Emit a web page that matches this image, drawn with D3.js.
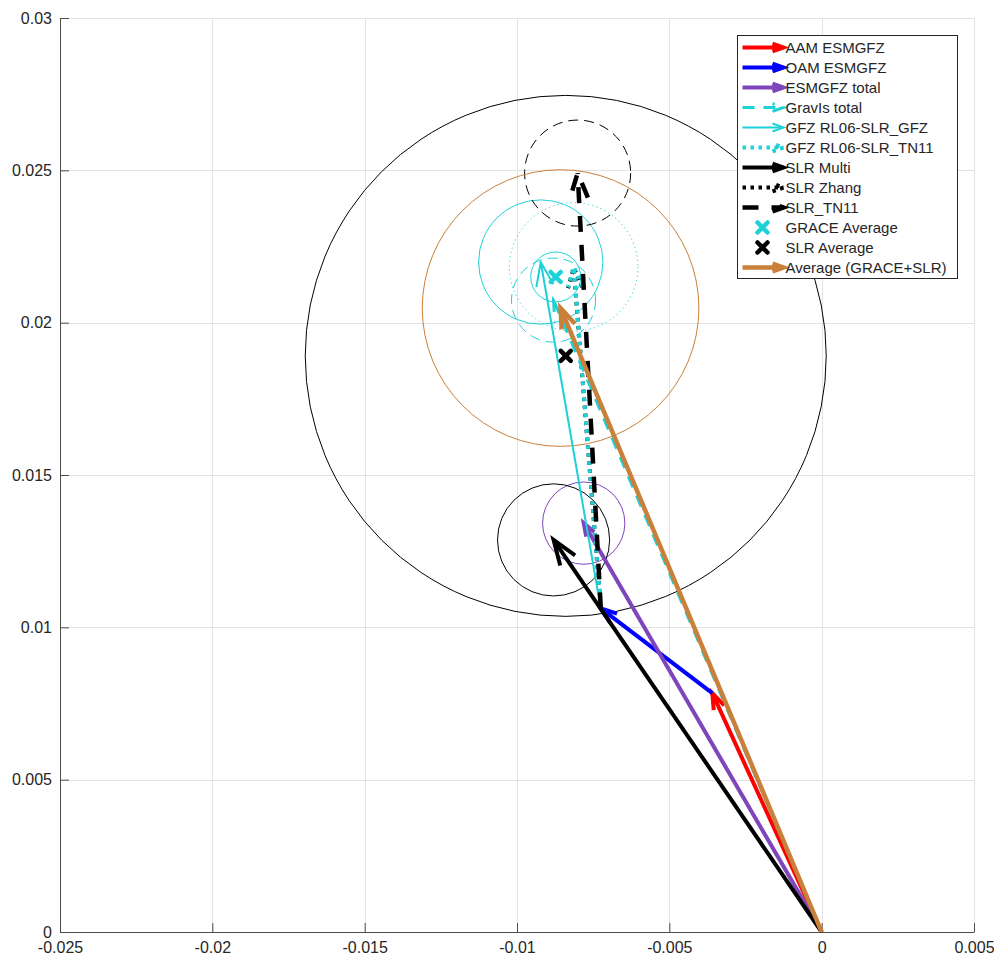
<!DOCTYPE html>
<html>
<head>
<meta charset="utf-8">
<script src="https://cdn.jsdelivr.net/npm/d3@7"></script>
<style>
  html, body { margin: 0; padding: 0; background: #fff; }
  svg text { font-family: "Liberation Sans", Arial, Helvetica, sans-serif; fill: #262626; }
</style>
</head>
<body>
<svg id="chart" width="994" height="957"></svg>
<script>
// Polar-motion excitation vectors (x, y components) and their uncertainty circles.
const vecNames = ["AAM ESMGFZ", "OAM ESMGFZ", "ESMGFZ total", "GravIs total",
  "GFZ RL06-SLR_GFZ", "GFZ RL06-SLR_TN11", "SLR Multi", "SLR Zhang", "SLR_TN11",
  "Average (GRACE+SLR)"];
const baseX = [0, -0.00359, 0, 0, -0.00725, -0.00725, 0, -0.00725, -0.00725, 0];
const baseY = [0, 0.00784, 0, 0, 0.01062, 0.01062, 0, 0.01062, 0.01062, 0];
const tipX  = [-0.00359, -0.00725, -0.00781, -0.00880, -0.00922, -0.00814, -0.00880, -0.00814, -0.00801, -0.00857];
const tipY  = [0.00784, 0.01062, 0.01342, 0.02074, 0.02199, 0.02183, 0.01287, 0.02180, 0.02491, 0.02048];
const sigma = [null, null, 0.00135, 0.00138, 0.00204, 0.00211, 0.00184, null, 0.00174, 0.00454];

// Group means
const avgNames = ["GRACE Average", "SLR Average"];
const avgX = [-0.00873, -0.00840];
const avgY = [0.02150, 0.01891];
const avgSigma = [0.00082, 0.00855];

// Axis ticks
const xTicks = [-0.025, -0.02, -0.015, -0.01, -0.005, 0, 0.005];
const xTickLabels = ["-0.025", "-0.02", "-0.015", "-0.01", "-0.005", "0", "0.005"];
const yTicks = [0, 0.005, 0.01, 0.015, 0.02, 0.025, 0.03];
const yTickLabels = ["0", "0.005", "0.01", "0.015", "0.02", "0.025", "0.03"];

// Legend order
const legendOrder = ["AAM ESMGFZ", "OAM ESMGFZ", "ESMGFZ total", "GravIs total",
  "GFZ RL06-SLR_GFZ", "GFZ RL06-SLR_TN11", "SLR Multi", "SLR Zhang", "SLR_TN11",
  "GRACE Average", "SLR Average", "Average (GRACE+SLR)"];

// Line styles
const CYAN = "#1dd1d8", PURPLE = "#7f45bd", ORANGE = "#c9803a";
const style = {
  "AAM ESMGFZ":          { color: "#ff0000", width: 4,   dash: null,   head: 16, circleDash: null },
  "OAM ESMGFZ":          { color: "#0000ff", width: 4,   dash: null,   head: 16, circleDash: null },
  "ESMGFZ total":        { color: PURPLE,    width: 4,   dash: null,   head: 13, circleDash: null },
  "GravIs total":        { color: CYAN,      width: 3,   dash: "12 9", head: 20, circleDash: "10 6" },
  "GFZ RL06-SLR_GFZ":    { color: CYAN,      width: 2,   dash: null,   head: 24, circleDash: null },
  "GFZ RL06-SLR_TN11":   { color: CYAN,      width: 4,   dash: "3.5 4.5", head: 20, circleDash: "1.2 3.2" },
  "SLR Multi":           { color: "#000000", width: 4,   dash: null,   head: 25, circleDash: null },
  "SLR Zhang":           { color: "#000000", width: 4,   dash: "3.5 4.5", head: 20, circleDash: null },
  "SLR_TN11":            { color: "#000000", width: 4.5, dash: "16 13", head: 25, circleDash: "10 6" },
  "Average (GRACE+SLR)": { color: ORANGE,    width: 4.5, dash: null,   head: 20, circleDash: null },
  "GRACE Average":       { color: CYAN,      width: 1,   dash: null,   circleDash: null },
  "SLR Average":         { color: "#000000", width: 1,   dash: null,   circleDash: null }
};

const svg = d3.select("#chart");
const margin = { left: 60, top: 18, right: 20, bottom: 25 };
const W = 994, H = 957;
const x = d3.scaleLinear().domain([-0.025, 0.005]).range([margin.left, W - margin.right]);
const y = d3.scaleLinear().domain([0, 0.03]).range([H - margin.bottom, margin.top]);
const pxPerUnit = x(1) - x(0);

// Grid
const grid = svg.append("g").attr("stroke", "#e3e3e3").attr("stroke-width", 1);
grid.selectAll("line.gx").data(xTicks).join("line")
  .attr("x1", d => Math.round(x(d)) + 0.5).attr("x2", d => Math.round(x(d)) + 0.5)
  .attr("y1", y(0)).attr("y2", y(0.03));
grid.selectAll("line.gy").data(yTicks).join("line")
  .attr("y1", d => Math.round(y(d)) + 0.5).attr("y2", d => Math.round(y(d)) + 0.5)
  .attr("x1", x(-0.025)).attr("x2", x(0.005));

// Axes
const xAxis = d3.axisBottom(x).tickValues(xTicks).tickFormat((d, i) => xTickLabels[i])
  .tickSizeInner(-9).tickSizeOuter(0).tickPadding(8);
const yAxis = d3.axisLeft(y).tickValues(yTicks).tickFormat((d, i) => yTickLabels[i])
  .tickSizeInner(-9).tickSizeOuter(0).tickPadding(8);
const gx = svg.append("g").attr("transform", `translate(0,${y(0)})`).call(xAxis);
const gy = svg.append("g").attr("transform", `translate(${x(-0.025)},0)`).call(yAxis);
[gx, gy].forEach(g => {
  g.select(".domain").attr("stroke", "#4d4d4d");
  g.selectAll(".tick line").attr("stroke", "#4d4d4d");
  g.selectAll(".tick text").attr("font-size", 16).attr("fill", "#262626")
    .style("font-family", "'Liberation Sans', Arial, Helvetica, sans-serif");
});
gx.selectAll(".tick text").attr("dy", "0.82em");

const plot = svg.append("g");

// Arrow head: open V drawn with the shaft's style
function headPath(x0, y0, x1, y1, len) {
  const dx = x1 - x0, dy = y1 - y0, L = Math.hypot(dx, dy);
  const ux = dx / L, uy = dy / L, px = -uy, py = ux, hw = 0.36 * len;
  const bx = x1 - ux * len, by = y1 - uy * len;
  return `M${bx + px * hw},${by + py * hw}L${x1},${y1}L${bx - px * hw},${by - py * hw}`;
}

const vectors = vecNames.map((n, i) => ({
  name: n, x0: baseX[i], y0: baseY[i], x1: tipX[i], y1: tipY[i], r: sigma[i], s: style[n]
}));

// Uncertainty circles
const circles = vectors.filter(v => v.r !== null)
  .map(v => ({ cx: v.x1, cy: v.y1, r: v.r, s: v.s }))
  .concat(avgNames.map((n, i) => ({ cx: avgX[i], cy: avgY[i], r: avgSigma[i], s: style[n] })));
plot.selectAll("circle.sig").data(circles).join("circle")
  .attr("cx", d => x(d.cx)).attr("cy", d => y(d.cy)).attr("r", d => d.r * pxPerUnit)
  .attr("fill", "none").attr("stroke", d => d.s.color).attr("stroke-width", 1)
  .attr("stroke-dasharray", d => d.s.circleDash);

// Draw order of arrows (Zhang sits underneath the cyan dotted series)
const drawOrder = ["SLR Zhang", "AAM ESMGFZ", "OAM ESMGFZ", "ESMGFZ total", "GravIs total",
  "GFZ RL06-SLR_GFZ", "GFZ RL06-SLR_TN11", "SLR Multi", "SLR_TN11", "Average (GRACE+SLR)"];
const ordered = drawOrder.map(n => vectors.find(v => v.name === n));

function drawArrow(g, X0, Y0, X1, Y1, s, headLen) {
  g.append("line").attr("x1", X0).attr("y1", Y0).attr("x2", X1).attr("y2", Y1)
    .attr("stroke", s.color).attr("stroke-width", s.width)
    .attr("stroke-dasharray", s.dash);
  g.append("path").attr("d", headPath(X0, Y0, X1, Y1, headLen))
    .attr("fill", "none").attr("stroke", s.color).attr("stroke-width", s.width)
    .attr("stroke-linejoin", "miter").attr("stroke-dasharray", s.dash);
}

// Mean markers (bold x)
function drawX(g, cx, cy, color) {
  const h = 5;
  g.append("path").attr("d", `M${cx - h},${cy - h}L${cx + h},${cy + h}M${cx - h},${cy + h}L${cx + h},${cy - h}`)
    .attr("stroke", color).attr("stroke-width", 4.5).attr("stroke-linecap", "round");
}

ordered.forEach(v => {
  if (v.name === "Average (GRACE+SLR)") {
    avgNames.forEach((n, i) => drawX(plot, x(avgX[i]), y(avgY[i]), style[n].color));
  }
  drawArrow(plot, x(v.x0), y(v.y0), x(v.x1), y(v.y1), v.s, v.s.head);
});

// Legend
const lg = svg.append("g").attr("transform", "translate(737.5,35.5)");
lg.append("rect").attr("width", 220).attr("height", 243)
  .attr("fill", "#fff").attr("stroke", "#262626").attr("stroke-width", 1);
legendOrder.forEach((n, i) => {
  const cy = 12 + i * 20, s = style[n];
  if (avgNames.includes(n)) {
    drawX(lg, 25, cy, s.color);
  } else {
    drawArrow(lg, 5, cy, 46, cy, s, 11);
  }
  lg.append("text").attr("x", 48).attr("y", cy).attr("dy", "0.36em")
    .attr("font-size", 15).text(n);
});
</script>
</body>
</html>
